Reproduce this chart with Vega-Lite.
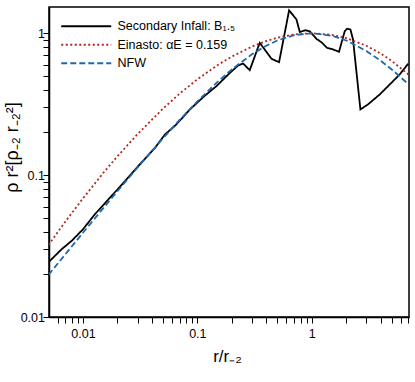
{
  "$schema": "https://vega.github.io/schema/vega-lite/v6.json",
  "width": 360,
  "height": 310,
  "autosize": "none",
  "padding": {"left": 49, "top": 7, "right": 6, "bottom": 65},
  "background": "white",
  "config": {
    "view": {"stroke": "black", "strokeWidth": 1.5},
    "font": "Liberation Sans, Arial",
    "axis": {"ticks": true, "tickColor": "black", "tickOpacity": 1, "zindex": 2}
  },
  "data": {"values": [
    {"x": 0.005, "y": 0.0243, "s": "Secondary Infall: B₁.₅"},
    {"x": 0.0065, "y": 0.030, "s": "Secondary Infall: B₁.₅"},
    {"x": 0.008, "y": 0.0345, "s": "Secondary Infall: B₁.₅"},
    {"x": 0.01, "y": 0.0415, "s": "Secondary Infall: B₁.₅"},
    {"x": 0.0127, "y": 0.0529, "s": "Secondary Infall: B₁.₅"},
    {"x": 0.0175, "y": 0.0703, "s": "Secondary Infall: B₁.₅"},
    {"x": 0.0233, "y": 0.0907, "s": "Secondary Infall: B₁.₅"},
    {"x": 0.032, "y": 0.121, "s": "Secondary Infall: B₁.₅"},
    {"x": 0.0425, "y": 0.155, "s": "Secondary Infall: B₁.₅"},
    {"x": 0.052, "y": 0.193, "s": "Secondary Infall: B₁.₅"},
    {"x": 0.065, "y": 0.226, "s": "Secondary Infall: B₁.₅"},
    {"x": 0.086, "y": 0.29, "s": "Secondary Infall: B₁.₅"},
    {"x": 0.115, "y": 0.36, "s": "Secondary Infall: B₁.₅"},
    {"x": 0.147, "y": 0.424, "s": "Secondary Infall: B₁.₅"},
    {"x": 0.19, "y": 0.52, "s": "Secondary Infall: B₁.₅"},
    {"x": 0.227, "y": 0.592, "s": "Secondary Infall: B₁.₅"},
    {"x": 0.251, "y": 0.612, "s": "Secondary Infall: B₁.₅"},
    {"x": 0.287, "y": 0.549, "s": "Secondary Infall: B₁.₅"},
    {"x": 0.351, "y": 0.856, "s": "Secondary Infall: B₁.₅"},
    {"x": 0.445, "y": 0.66, "s": "Secondary Infall: B₁.₅"},
    {"x": 0.518, "y": 0.625, "s": "Secondary Infall: B₁.₅"},
    {"x": 0.634, "y": 1.45, "s": "Secondary Infall: B₁.₅"},
    {"x": 0.735, "y": 1.25, "s": "Secondary Infall: B₁.₅"},
    {"x": 0.786, "y": 1.02, "s": "Secondary Infall: B₁.₅"},
    {"x": 0.886, "y": 1.05, "s": "Secondary Infall: B₁.₅"},
    {"x": 0.961, "y": 1.03, "s": "Secondary Infall: B₁.₅"},
    {"x": 1.099, "y": 0.913, "s": "Secondary Infall: B₁.₅"},
    {"x": 1.215, "y": 0.864, "s": "Secondary Infall: B₁.₅"},
    {"x": 1.36, "y": 0.789, "s": "Secondary Infall: B₁.₅"},
    {"x": 1.535, "y": 0.768, "s": "Secondary Infall: B₁.₅"},
    {"x": 1.731, "y": 0.74, "s": "Secondary Infall: B₁.₅"},
    {"x": 1.942, "y": 1.033, "s": "Secondary Infall: B₁.₅"},
    {"x": 2.033, "y": 1.074, "s": "Secondary Infall: B₁.₅"},
    {"x": 2.178, "y": 1.062, "s": "Secondary Infall: B₁.₅"},
    {"x": 2.295, "y": 0.903, "s": "Secondary Infall: B₁.₅"},
    {"x": 2.663, "y": 0.29, "s": "Secondary Infall: B₁.₅"},
    {"x": 3.1, "y": 0.315, "s": "Secondary Infall: B₁.₅"},
    {"x": 3.926, "y": 0.37, "s": "Secondary Infall: B₁.₅"},
    {"x": 4.967, "y": 0.447, "s": "Secondary Infall: B₁.₅"},
    {"x": 5.87, "y": 0.512, "s": "Secondary Infall: B₁.₅"},
    {"x": 6.8, "y": 0.595, "s": "Secondary Infall: B₁.₅"},
    {"x": 7.0, "y": 0.61, "s": "Secondary Infall: B₁.₅"},
    {"x": 0.005, "y": 0.0322, "s": "Einasto: αE = 0.159"},
    {"x": 0.007, "y": 0.0469, "s": "Einasto: αE = 0.159"},
    {"x": 0.01, "y": 0.0685, "s": "Einasto: αE = 0.159"},
    {"x": 0.015, "y": 0.1032, "s": "Einasto: αE = 0.159"},
    {"x": 0.02, "y": 0.1355, "s": "Einasto: αE = 0.159"},
    {"x": 0.03, "y": 0.1943, "s": "Einasto: αE = 0.159"},
    {"x": 0.05, "y": 0.2937, "s": "Einasto: αE = 0.159"},
    {"x": 0.07, "y": 0.3749, "s": "Einasto: αE = 0.159"},
    {"x": 0.1, "y": 0.4733, "s": "Einasto: αE = 0.159"},
    {"x": 0.15, "y": 0.5955, "s": "Einasto: αE = 0.159"},
    {"x": 0.2, "y": 0.6848, "s": "Einasto: αE = 0.159"},
    {"x": 0.3, "y": 0.8051, "s": "Einasto: αE = 0.159"},
    {"x": 0.4, "y": 0.881, "s": "Einasto: αE = 0.159"},
    {"x": 0.5, "y": 0.9285, "s": "Einasto: αE = 0.159"},
    {"x": 0.7, "y": 0.98, "s": "Einasto: αE = 0.159"},
    {"x": 1, "y": 1.0, "s": "Einasto: αE = 0.159"},
    {"x": 1.5, "y": 0.9736, "s": "Einasto: αE = 0.159"},
    {"x": 2, "y": 0.924, "s": "Einasto: αE = 0.159"},
    {"x": 3, "y": 0.8157, "s": "Einasto: αE = 0.159"},
    {"x": 4, "y": 0.7195, "s": "Einasto: αE = 0.159"},
    {"x": 5, "y": 0.638, "s": "Einasto: αE = 0.159"},
    {"x": 7, "y": 0.512, "s": "Einasto: αE = 0.159"},
    {"x": 0.005, "y": 0.0198, "s": "NFW"},
    {"x": 0.007, "y": 0.02761, "s": "NFW"},
    {"x": 0.01, "y": 0.03921, "s": "NFW"},
    {"x": 0.015, "y": 0.05824, "s": "NFW"},
    {"x": 0.02, "y": 0.07689, "s": "NFW"},
    {"x": 0.03, "y": 0.1131, "s": "NFW"},
    {"x": 0.05, "y": 0.1814, "s": "NFW"},
    {"x": 0.07, "y": 0.2446, "s": "NFW"},
    {"x": 0.1, "y": 0.3306, "s": "NFW"},
    {"x": 0.15, "y": 0.4537, "s": "NFW"},
    {"x": 0.2, "y": 0.5556, "s": "NFW"},
    {"x": 0.3, "y": 0.7101, "s": "NFW"},
    {"x": 0.4, "y": 0.8163, "s": "NFW"},
    {"x": 0.5, "y": 0.8889, "s": "NFW"},
    {"x": 0.7, "y": 0.9689, "s": "NFW"},
    {"x": 1, "y": 1.0, "s": "NFW"},
    {"x": 1.5, "y": 0.96, "s": "NFW"},
    {"x": 2, "y": 0.8889, "s": "NFW"},
    {"x": 3, "y": 0.75, "s": "NFW"},
    {"x": 4, "y": 0.64, "s": "NFW"},
    {"x": 5, "y": 0.5556, "s": "NFW"},
    {"x": 7, "y": 0.4375, "s": "NFW"}
  ]},
  "mark": {"type": "line", "strokeWidth": 1.8, "clip": true},
  "encoding": {
    "x": {
      "field": "x", "type": "quantitative",
      "scale": {"type": "log", "domain": [0.00505, 7.08], "nice": false},
      "axis": {
        "title": "r/r₋₂",
        "titleFontSize": 17, "titleFontWeight": "normal", "titleColor": "black",
        "titleX": 178, "titleY": 31,
        "values": [0.006,0.007,0.008,0.009,0.01,0.02,0.03,0.04,0.05,0.06,0.07,0.08,0.09,0.1,0.2,0.3,0.4,0.5,0.6,0.7,0.8,0.9,1,2,3,4,5,6,7],
        "labelExpr": "datum.value == 0.01 ? '0.01' : datum.value == 0.1 ? '0.1' : datum.value == 1 ? '1' : ''",
        "labelFontSize": 12.5, "labelColor": "black", "labelPadding": 4, "labelFlush": false, "labelOverlap": false,
        "tickSize": 6,
        "tickWidth": 1,
        "domainColor": "black", "domainWidth": 1.5,
        "grid": false,
        "encode": {"ticks": {"update": {"y2": {"signal": "datum.value == 0.01 || datum.value == 0.1 || datum.value == 1 ? -7 : -4"}}}}
      }
    },
    "y": {
      "field": "y", "type": "quantitative",
      "scale": {"type": "log", "domain": [0.01, 1.53], "nice": false},
      "axis": {
        "title": "ρ r²[ρ₋₂ r₋₂²]",
        "titleFontSize": 18, "titleFontWeight": "normal", "titleColor": "black",
        "titleAngle": -90, "titleX": -37, "titleY": 140, "titleBaseline": "middle", "titleAlign": "center",
        "values": [0.01,0.02,0.03,0.04,0.05,0.06,0.07,0.08,0.09,0.1,0.2,0.3,0.4,0.5,0.6,0.7,0.8,0.9,1],
        "labelExpr": "datum.value == 0.01 ? '0.01' : datum.value == 0.1 ? '0.1' : datum.value == 1 ? '1' : ''",
        "labelFontSize": 12.5, "labelColor": "black", "labelPadding": -1.5, "labelFlush": false, "labelOverlap": false,
        "tickSize": 6,
        "tickWidth": 1,
        "domainColor": "black", "domainWidth": 1.5,
        "grid": false,
        "encode": {"ticks": {"update": {"x2": {"signal": "datum.value == 0.01 || datum.value == 0.1 || datum.value == 1 ? 7 : 4"}}}}
      }
    },
    "color": {
      "field": "s", "type": "nominal",
      "scale": {"domain": ["Secondary Infall: B₁.₅", "Einasto: αE = 0.159", "NFW"], "range": ["#000000", "#b3261e", "#1f68b0"]},
      "legend": {
        "orient": "none", "legendX": 11, "legendY": 13, "title": null,
        "symbolType": "M-1,0H9", "symbolSize": 100, "symbolStrokeWidth": 2,
        "labelFontSize": 12.5, "labelColor": "black", "labelOffset": 45, "rowPadding": 5.5, "labelLimit": 300
      }
    },
    "strokeDash": {
      "field": "s", "type": "nominal",
      "scale": {"domain": ["Secondary Infall: B₁.₅", "Einasto: αE = 0.159", "NFW"], "range": [[1, 0], [2, 2.5], [6, 3]]},
      "legend": {
        "orient": "none", "legendX": 11, "legendY": 13, "title": null,
        "symbolType": "M-1,0H9", "symbolSize": 100, "symbolStrokeWidth": 2,
        "labelFontSize": 12.5, "labelColor": "black", "labelOffset": 45, "rowPadding": 5.5, "labelLimit": 300
      }
    }
  }
}
